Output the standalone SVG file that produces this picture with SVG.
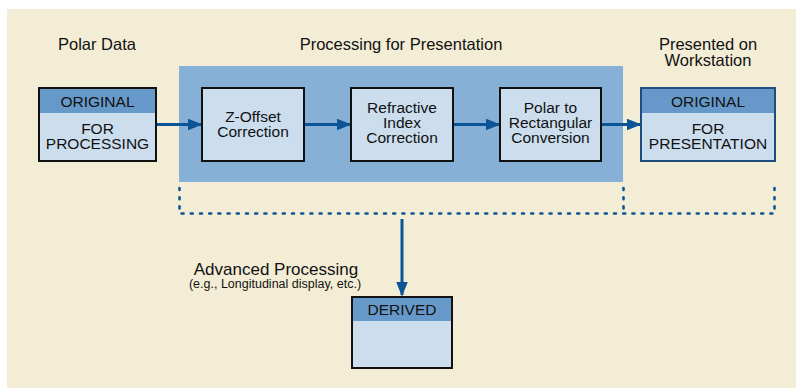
<svg xmlns="http://www.w3.org/2000/svg" width="796" height="388" viewBox="0 0 796 388">
<style>
.t{font-family:"Liberation Sans",Arial,sans-serif;fill:#111;text-anchor:middle}
.h{font-size:16.5px}
.b{font-size:15.5px}
.box{fill:#CCDDEE;stroke:#111;stroke-width:2}
.hdr{fill:#6699C9}
.con{stroke:#0B5597;stroke-width:3;fill:none}
.dash{stroke:#0B5597;stroke-width:2.6;fill:none;stroke-dasharray:2 7.2;stroke-linecap:round}
</style>
<defs>
<marker id="ah" markerWidth="5" markerHeight="4" refX="4.5" refY="2" orient="auto" markerUnits="strokeWidth">
<path d="M0,0 L5,2 L0,4 Z" fill="#0B5597"/>
</marker>
</defs>
<rect x="0" y="0" width="796" height="388" fill="#fff"/>
<rect x="7" y="9" width="789" height="379" fill="#F4EDD6"/>
<rect x="179" y="66" width="444" height="116" fill="#86B0D6"/>
<text class="t h" x="97" y="50">Polar Data</text>
<text class="t h" x="401" y="50">Processing for Presentation</text>
<text class="t h" x="708" y="50">Presented on</text>
<text class="t h" x="708" y="66">Workstation</text>
<text class="t" style="font-size:17px" x="276" y="275">Advanced Processing</text>
<text class="t" style="font-size:12.5px" x="275" y="288">(e.g., Longitudinal display, etc.)</text>
<g id="connectors">
<line class="con" x1="156" y1="124.5" x2="201" y2="124.5" marker-end="url(#ah)"/>
<line class="con" x1="304" y1="124.5" x2="350" y2="124.5" marker-end="url(#ah)"/>
<line class="con" x1="453" y1="124.5" x2="499" y2="124.5" marker-end="url(#ah)"/>
<line class="con" x1="601" y1="124.5" x2="640" y2="124.5" marker-end="url(#ah)"/>
<path class="dash" d="M179.5,188 V213.5 H774.5 V188"/>
<path class="dash" d="M623.5,188 V213.5"/>
<line class="con" x1="402" y1="219" x2="402" y2="295" marker-end="url(#ah)"/>
</g>
<g id="polar-data">
<rect class="box" x="39" y="88" width="117" height="73"/>
<rect class="hdr" x="40" y="89" width="115" height="24"/>
<text class="t b" x="97.5" y="107">ORIGINAL</text>
<text class="t b" x="97.5" y="133.5">FOR</text>
<text class="t b" x="97.5" y="149">PROCESSING</text>
</g>
<g id="z-offset">
<rect class="box" x="202" y="88" width="102" height="73"/>
<text class="t b" x="253" y="121.5">Z-Offset</text>
<text class="t b" x="253" y="136.5">Correction</text>
</g>
<g id="refractive">
<rect class="box" x="351" y="88" width="102" height="73"/>
<text class="t b" x="402" y="113">Refractive</text>
<text class="t b" x="402" y="128">Index</text>
<text class="t b" x="402" y="143">Correction</text>
</g>
<g id="polar-rect">
<rect class="box" x="500" y="88" width="101" height="73"/>
<text class="t b" x="550.5" y="113">Polar to</text>
<text class="t b" x="550.5" y="128">Rectangular</text>
<text class="t b" x="550.5" y="143">Conversion</text>
</g>
<g id="presentation">
<rect class="box" x="641" y="88" width="134" height="73" style="stroke:#1D4E80"/>
<rect class="hdr" x="642" y="89" width="132" height="24"/>
<text class="t b" x="708" y="107">ORIGINAL</text>
<text class="t b" x="708" y="133.5">FOR</text>
<text class="t b" x="708" y="149">PRESENTATION</text>
</g>
<g id="derived">
<rect class="box" x="352" y="297" width="100" height="71"/>
<rect class="hdr" x="353" y="298" width="98" height="23"/>
<text class="t b" x="402" y="314.5">DERIVED</text>
</g>
</svg>
